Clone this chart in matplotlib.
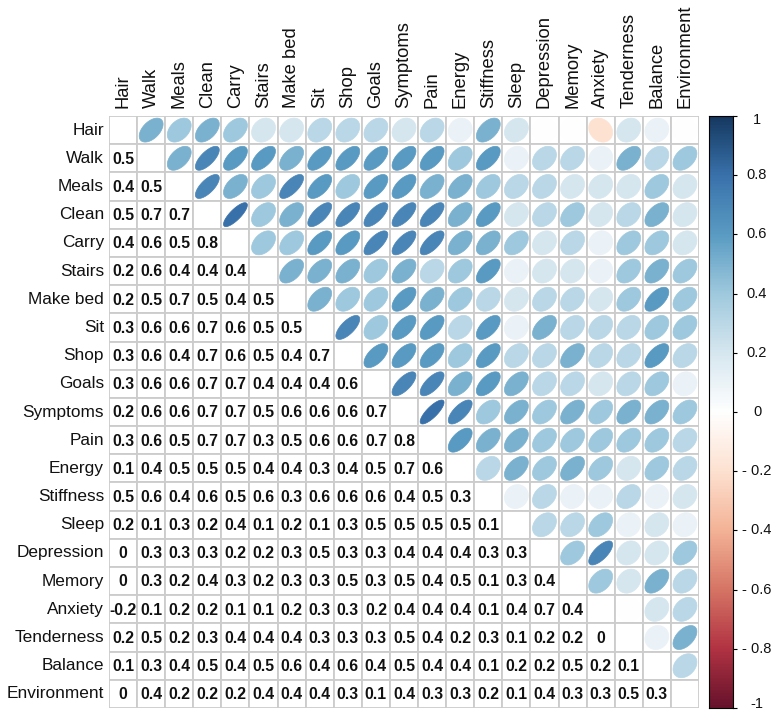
import matplotlib
matplotlib.use("Agg")
import matplotlib.pyplot as plt
import numpy as np
from matplotlib.colors import LinearSegmentedColormap, to_rgb, rgb_to_hsv, hsv_to_rgb
from matplotlib.patches import Polygon, Rectangle

labels = ["Hair", "Walk", "Meals", "Clean", "Carry", "Stairs", "Make bed", "Sit",
          "Shop", "Goals", "Symptoms", "Pain", "Energy", "Stiffness", "Sleep",
          "Depression", "Memory", "Anxiety", "Tenderness", "Balance", "Environment"]

# lower triangle, row i holds r(i, 0..i-1)
lower_rows = [
    [],
    [0.5],
    [0.4, 0.5],
    [0.5, 0.7, 0.7],
    [0.4, 0.6, 0.5, 0.8],
    [0.2, 0.6, 0.4, 0.4, 0.4],
    [0.2, 0.5, 0.7, 0.5, 0.4, 0.5],
    [0.3, 0.6, 0.6, 0.7, 0.6, 0.5, 0.5],
    [0.3, 0.6, 0.4, 0.7, 0.6, 0.5, 0.4, 0.7],
    [0.3, 0.6, 0.6, 0.7, 0.7, 0.4, 0.4, 0.4, 0.6],
    [0.2, 0.6, 0.6, 0.7, 0.7, 0.5, 0.6, 0.6, 0.6, 0.7],
    [0.3, 0.6, 0.5, 0.7, 0.7, 0.3, 0.5, 0.6, 0.6, 0.7, 0.8],
    [0.1, 0.4, 0.5, 0.5, 0.5, 0.4, 0.4, 0.3, 0.4, 0.5, 0.7, 0.6],
    [0.5, 0.6, 0.4, 0.6, 0.5, 0.6, 0.3, 0.6, 0.6, 0.6, 0.4, 0.5, 0.3],
    [0.2, 0.1, 0.3, 0.2, 0.4, 0.1, 0.2, 0.1, 0.3, 0.5, 0.5, 0.5, 0.5, 0.1],
    [0.0, 0.3, 0.3, 0.3, 0.2, 0.2, 0.3, 0.5, 0.3, 0.3, 0.4, 0.4, 0.4, 0.3, 0.3],
    [0.0, 0.3, 0.2, 0.4, 0.3, 0.2, 0.3, 0.3, 0.5, 0.3, 0.5, 0.4, 0.5, 0.1, 0.3, 0.4],
    [-0.2, 0.1, 0.2, 0.2, 0.1, 0.1, 0.2, 0.3, 0.3, 0.2, 0.4, 0.4, 0.4, 0.1, 0.4, 0.7, 0.4],
    [0.2, 0.5, 0.2, 0.3, 0.4, 0.4, 0.4, 0.3, 0.3, 0.3, 0.5, 0.4, 0.2, 0.3, 0.1, 0.2, 0.2, 0.0],
    [0.1, 0.3, 0.4, 0.5, 0.4, 0.5, 0.6, 0.4, 0.6, 0.4, 0.5, 0.4, 0.4, 0.1, 0.2, 0.2, 0.5, 0.2, 0.1],
    [0.0, 0.4, 0.2, 0.2, 0.2, 0.4, 0.4, 0.4, 0.3, 0.1, 0.4, 0.3, 0.3, 0.2, 0.1, 0.4, 0.3, 0.3, 0.5, 0.3],
]

rdbu = ["#67001F", "#B2182B", "#D6604D", "#F4A582", "#FDDBC7", "#FFFFFF",
        "#D1E5F0", "#92C5DE", "#4393C3", "#2166AC", "#053061"]
cbar_ticks = [1, 0.8, 0.6, 0.4, 0.2, 0, -0.2, -0.4, -0.6, -0.8, -1]
cbar_labels = ["1", "0.8", "0.6", "0.4", "0.2", "0", "- 0.2", "- 0.4", "- 0.6", "- 0.8", "-1"]

n = len(labels)
corr = np.eye(n)
for i, row in enumerate(lower_rows):
    for j, v in enumerate(row):
        corr[i, j] = v
        corr[j, i] = v

# slightly muted version of the RdBu ramp, as in the picture
hsv = rgb_to_hsv(np.array([to_rgb(c) for c in rdbu]))
hsv[:, 1] *= 0.82
cmap = LinearSegmentedColormap.from_list("corr", hsv_to_rgb(hsv), N=200)

W, H = 773, 710
fig = plt.figure(figsize=(W / 100, H / 100), dpi=100)
gx0, gx1, gy0, gy1 = 109, 699, 116, 708
ax = fig.add_axes([gx0 / W, 1 - gy1 / H, (gx1 - gx0) / W, (gy1 - gy0) / H])
ax.set_xlim(0, n)
ax.set_ylim(n, 0)
ax.axis("off")

t = np.linspace(0, 2 * np.pi, 99)
for i in range(n):
    for j in range(n):
        ax.add_patch(Rectangle((j, i), 1, 1, facecolor="white", edgecolor="#cccccc", lw=1.3))
        r = corr[i, j]
        if i > j:
            txt = "0" if r == 0 else f"{r:.1f}"
            ax.text(j + 0.5, i + 0.53, txt, ha="center", va="center", fontsize=11.3,
                    fontweight="bold", family="Liberation Sans", color="#111111")
        elif j > i:
            a = np.arccos(r)
            ex = 0.425 * np.cos(t + a / 2)
            ey = 0.425 * np.cos(t - a / 2)
            c = cmap((r + 1) / 2)
            ax.add_patch(Polygon(np.column_stack([j + 0.5 + ex, i + 0.5 - ey]),
                                 closed=True, facecolor=c, edgecolor=c, lw=0.5))

for k, name in enumerate(labels):
    ax.text(-0.18, k + 0.5, name, ha="right", va="center", fontsize=12.4,
            family="Liberation Sans", color="#111111")
    ax.text(k + 0.5, -0.28, name, ha="center", va="bottom", rotation=90,
            fontsize=13.2, family="Liberation Sans", color="#111111")

# colour legend
cx0, cx1 = 709, 733
cax = fig.add_axes([cx0 / W, 1 - gy1 / H, (cx1 - cx0) / W, (gy1 - gy0) / H])
grad = np.linspace(1, -1, 400).reshape(-1, 1)
cax.imshow(grad, cmap=cmap, vmin=-1, vmax=1, aspect="auto", extent=[0, 1, -1, 1])
cax.set_xlim(0, 1)
cax.set_ylim(-1, 1)
cax.set_xticks([])
cax.set_yticks(cbar_ticks)
cax.tick_params(axis="y", left=False, right=True, labelleft=False, labelright=False,
                direction="out", length=3, width=0.8)
for s in cax.spines.values():
    s.set_linewidth(0.8)
for v, lab in zip(cbar_ticks, cbar_labels):
    yy = v - 0.012 * np.sign(v) if abs(v) == 1 else v
    cax.text(2.0, yy, lab, ha="center", va="center", fontsize=10.5,
             family="Liberation Sans", color="#111111")

fig.savefig("out.png", dpi=100)
